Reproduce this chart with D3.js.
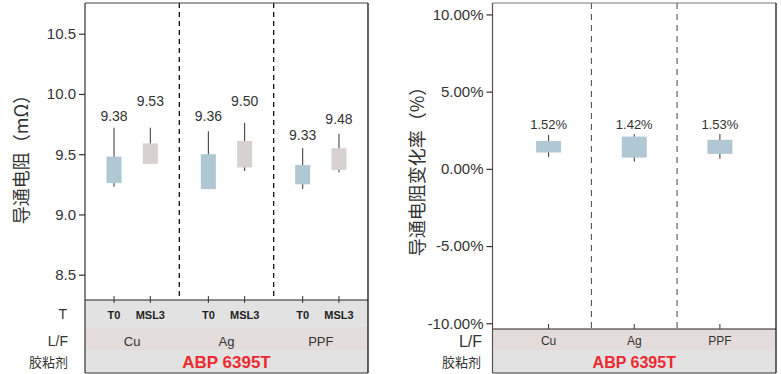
<!DOCTYPE html>
<html><head><meta charset="utf-8">
<script src="https://cdn.jsdelivr.net/npm/d3@7"></script>
<style>body{margin:0;background:#fff}svg{display:block}text{font-family:"Liberation Sans",Arial,sans-serif}</style>
</head><body><svg id="c" width="781" height="374"></svg>
<script>
// ---- data ----
const groups = ["Cu", "Ag", "PPF"];
const stages = ["T0", "MSL3"];
const adhesive = "ABP 6395T";
const leftTicks = [8.5, 9.0, 9.5, 10.0, 10.5];
const resMean = [9.38, 9.53, 9.36, 9.50, 9.33, 9.48];
const resWhiskerHigh = [9.72, 9.72, 9.69, 9.76, 9.55, 9.67];
const resBoxHigh = [9.48, 9.59, 9.50, 9.61, 9.41, 9.55];
const resBoxLow = [9.26, 9.42, 9.21, 9.39, 9.25, 9.37];
const resWhiskerLow = [9.23, 9.42, 9.21, 9.36, 9.21, 9.35];
const resLabelAt = [9.82, 9.94, 9.82, 9.94, 9.66, 9.79];
const rightTicks = [-10, -5, 0, 5, 10];
const changeMean = [1.52, 1.42, 1.53];
const changeWhiskerHigh = [2.20, 2.25, 2.25];
const changeBoxHigh = [1.81, 2.09, 1.88];
const changeBoxLow = [1.06, 0.73, 0.97];
const changeWhiskerLow = [0.76, 0.47, 0.65];
const changeLabelAt = [2.89, 2.89, 2.89];

const svg = d3.select("#c");
const cjk = '"Noto Sans CJK SC", sans-serif';
const boxColors = {T0: "#afc8d3", MSL3: "#d7d2d0"};

// ================= LEFT CHART =================
(function(){
  const L = 85, R = 368, T = 3, B = 300;
  const rowT = [300, 327], rowLF = [327, 350], rowA = [350, 373];
  const y = d3.scaleLinear().domain([8.29, 10.755]).range([B, T]);
  const xg = d3.scaleBand().domain(groups).range([L, R]).padding(0);
  const xs = d3.scalePoint().domain(stages).range([0, xg.bandwidth()]).padding(0.8);
  const g = svg.append("g");

  const rows = [];
  groups.forEach((gr, i) => stages.forEach((st, j) => {
    const k = i * 2 + j;
    rows.push({gr, st, cx: xg(gr) + xs(st), mean: resMean[k], wh: resWhiskerHigh[k], bh: resBoxHigh[k],
      bl: resBoxLow[k], wl: resWhiskerLow[k], la: resLabelAt[k]});
  }));

  g.append("rect").attr("x", L).attr("y", rowT[0]).attr("width", R - L).attr("height", rowT[1] - rowT[0]).attr("fill", "#e2e2e2");
  g.append("rect").attr("x", L).attr("y", rowLF[0]).attr("width", R - L).attr("height", rowLF[1] - rowLF[0]).attr("fill", "#e4dcda");
  g.append("rect").attr("x", L).attr("y", rowA[0]).attr("width", R - L).attr("height", rowA[1] - rowA[0]).attr("fill", "#e2e2e2");

  groups.slice(1).forEach(gr => {
    g.append("line").attr("x1", xg(gr)).attr("x2", xg(gr)).attr("y1", T).attr("y2", B)
      .attr("stroke", "#111").attr("stroke-width", 1.3).attr("stroke-dasharray", "5,4");
  });

  g.append("line").attr("x1", L).attr("x2", R).attr("y1", T).attr("y2", T).attr("stroke", "#444").attr("stroke-width", 1);
  g.append("line").attr("x1", R).attr("x2", R).attr("y1", T).attr("y2", rowA[1]).attr("stroke", "#111").attr("stroke-width", 1.3);
  g.append("line").attr("x1", L).attr("x2", R).attr("y1", B).attr("y2", B).attr("stroke", "#222").attr("stroke-width", 1);
  g.append("line").attr("x1", L).attr("x2", R).attr("y1", rowA[1]).attr("y2", rowA[1]).attr("stroke", "#333").attr("stroke-width", 1);
  g.append("line").attr("x1", L).attr("x2", L).attr("y1", T).attr("y2", rowA[1]).attr("stroke", "#333").attr("stroke-width", 1.2);

  const ax = g.append("g").attr("transform", `translate(${L},0)`)
    .call(d3.axisLeft(y).tickValues(leftTicks).tickFormat(d3.format(".1f")).tickSize(6).tickSizeOuter(0));
  ax.select(".domain").remove();
  ax.selectAll(".tick line").attr("stroke", "#333").attr("stroke-width", 1.2);
  ax.selectAll(".tick text").attr("font-size", 15).attr("fill", "#333").attr("x", -9);

  rows.forEach(r => {
    g.append("line").attr("x1", r.cx).attr("x2", r.cx).attr("y1", B - 4).attr("y2", B + 3).attr("stroke", "#333");
  });

  rows.forEach(r => {
    g.append("line").attr("x1", r.cx).attr("x2", r.cx).attr("y1", y(r.wh)).attr("y2", y(r.wl)).attr("stroke", "#333").attr("stroke-width", 1);
    g.append("rect").attr("x", r.cx - 7.5).attr("width", 15).attr("y", y(r.bh)).attr("height", y(r.bl) - y(r.bh)).attr("fill", boxColors[r.st]);
    g.append("text").attr("x", r.cx).attr("y", y(r.la)).attr("dy", "0.36em").attr("text-anchor", "middle")
      .attr("font-size", 14).attr("fill", "#333").text(r.mean.toFixed(2));
  });

  rows.forEach(r => {
    g.append("text").attr("x", r.cx).attr("y", 315).attr("dy", "0.36em").attr("text-anchor", "middle")
      .attr("font-size", 11).attr("font-weight", "bold").attr("fill", "#222").text(r.st);
  });
  groups.forEach(gr => {
    g.append("text").attr("x", xg(gr) + xg.bandwidth() / 2).attr("y", 341).attr("dy", "0.36em").attr("text-anchor", "middle")
      .attr("font-size", 13).attr("fill", "#333").text(gr);
  });
  g.append("text").attr("x", (L + R) / 2).attr("y", 362).attr("dy", "0.36em").attr("text-anchor", "middle")
    .attr("font-size", 17).attr("font-weight", "bold").attr("fill", "#ee2a2f").text(adhesive);

  g.append("text").attr("x", 67).attr("y", 314).attr("dy", "0.36em").attr("text-anchor", "end").attr("font-size", 14).attr("fill", "#333").text("T");
  g.append("text").attr("x", 68).attr("y", 341).attr("dy", "0.36em").attr("text-anchor", "end").attr("font-size", 14).attr("fill", "#333").text("L/F");
  g.append("text").attr("x", 68).attr("y", 362).attr("dy", "0.36em").attr("text-anchor", "end").attr("font-size", 13).attr("fill", "#333")
    .style("font-family", cjk).text("胶粘剂");

  g.append("text").attr("transform", `translate(22,155) rotate(-90)`).attr("text-anchor", "middle").attr("dy", "0.36em")
    .attr("font-size", 18).attr("fill", "#333").style("font-family", cjk).text("导通电阻（mΩ）");
})();

// ================= RIGHT CHART =================
(function(){
  const L = 492.5, R = 776, T = 3, B = 329;
  const rowLF = [329, 350], rowA = [350, 373];
  const y = d3.scaleLinear().domain([-10.37, 10.74]).range([B, T]);
  const x = d3.scalePoint().domain(groups).range([L, R]).padding(0.655);
  const g = svg.append("g");
  const step = x.step();

  g.append("rect").attr("x", L).attr("y", rowLF[0]).attr("width", R - L).attr("height", rowLF[1] - rowLF[0]).attr("fill", "#e4dcda");
  g.append("rect").attr("x", L).attr("y", rowA[0]).attr("width", R - L).attr("height", rowA[1] - rowA[0]).attr("fill", "#e2e2e2");

  groups.slice(1).forEach(gr => {
    const xx = x(gr) - step / 2;
    g.append("line").attr("x1", xx).attr("x2", xx).attr("y1", T).attr("y2", B)
      .attr("stroke", "#555").attr("stroke-width", 1.1).attr("stroke-dasharray", "6,5");
  });

  g.append("line").attr("x1", L).attr("x2", R).attr("y1", T).attr("y2", T).attr("stroke", "#777").attr("stroke-width", 1);
  g.append("line").attr("x1", R).attr("x2", R).attr("y1", T).attr("y2", rowA[1]).attr("stroke", "#444").attr("stroke-width", 1.6);
  g.append("line").attr("x1", L).attr("x2", R).attr("y1", B).attr("y2", B).attr("stroke", "#222").attr("stroke-width", 1);
  g.append("line").attr("x1", L).attr("x2", R).attr("y1", rowA[1]).attr("y2", rowA[1]).attr("stroke", "#333").attr("stroke-width", 1);
  g.append("line").attr("x1", L).attr("x2", L).attr("y1", T).attr("y2", rowA[1]).attr("stroke", "#555").attr("stroke-width", 1.2);

  const ax = g.append("g").attr("transform", `translate(${L},0)`)
    .call(d3.axisLeft(y).tickValues(rightTicks).tickFormat(d => d.toFixed(2) + "%").tickSize(6).tickSizeOuter(0));
  ax.select(".domain").remove();
  ax.selectAll(".tick line").attr("stroke", "#333").attr("stroke-width", 1.2);
  ax.selectAll(".tick text").attr("font-size", 15).attr("fill", "#333").attr("x", -9);

  groups.forEach((gr, i) => {
    const cx = x(gr);
    g.append("line").attr("x1", cx).attr("x2", cx).attr("y1", B - 5).attr("y2", B).attr("stroke", "#333");
    g.append("line").attr("x1", cx).attr("x2", cx).attr("y1", y(changeWhiskerHigh[i])).attr("y2", y(changeWhiskerLow[i])).attr("stroke", "#333");
    g.append("rect").attr("x", cx - 12.5).attr("width", 25).attr("y", y(changeBoxHigh[i]))
      .attr("height", y(changeBoxLow[i]) - y(changeBoxHigh[i])).attr("fill", "#afc8d3");
    g.append("text").attr("x", cx).attr("y", y(changeLabelAt[i])).attr("dy", "0.36em").attr("text-anchor", "middle")
      .attr("font-size", 13).attr("fill", "#333").text(changeMean[i].toFixed(2) + "%");
    g.append("text").attr("x", cx).attr("y", 341).attr("dy", "0.36em").attr("text-anchor", "middle")
      .attr("font-size", 12).attr("fill", "#333").text(gr);
  });
  g.append("text").attr("x", x(groups[1])).attr("y", 362).attr("dy", "0.36em").attr("text-anchor", "middle")
    .attr("font-size", 16).attr("font-weight", "bold").attr("fill", "#ee2a2f").text(adhesive);

  g.append("text").attr("x", 482).attr("y", 341).attr("dy", "0.36em").attr("text-anchor", "end").attr("font-size", 16).attr("fill", "#333").text("L/F");
  g.append("text").attr("x", 481).attr("y", 362).attr("dy", "0.36em").attr("text-anchor", "end").attr("font-size", 13).attr("fill", "#333")
    .style("font-family", cjk).text("胶粘剂");

  g.append("text").attr("transform", `translate(418,167) rotate(-90)`).attr("text-anchor", "middle").attr("dy", "0.36em")
    .attr("font-size", 18).attr("fill", "#333").style("font-family", cjk).text("导通电阻变化率（%）");
})();
</script></body></html>
